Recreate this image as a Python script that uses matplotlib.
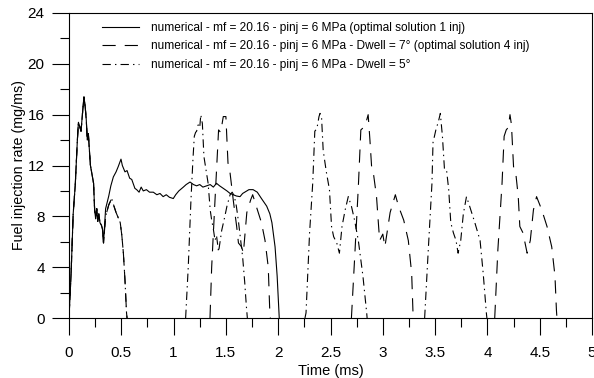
import numpy as np
import matplotlib
matplotlib.use("Agg")
import matplotlib.pyplot as plt
from matplotlib.ticker import MultipleLocator, FuncFormatter

plt.rcParams['font.family'] = ['Liberation Sans', 'DejaVu Sans']
plt.rcParams['lines.scale_dashes'] = False

nan = float('nan')

# ---- data (time in ms, rate in mg/ms) ----
# shared start of first injection
common_t = [0.0, 0.02, 0.04, 0.06, 0.08, 0.09, 0.105, 0.115, 0.13, 0.143, 0.155, 0.165,
            0.175, 0.185, 0.195, 0.205, 0.22, 0.235, 0.245, 0.255, 0.265, 0.275, 0.285,
            0.296, 0.31, 0.32, 0.33]
common_v = [0.0, 3.5, 8.2, 10.5, 14.0, 15.4, 15.0, 14.7, 16.2, 17.4, 16.6, 15.6,
            14.0, 14.5, 13.2, 12.0, 11.3, 10.6, 8.5, 7.8, 8.6, 7.6, 8.2,
            7.5, 7.3, 7.0, 5.9]

single_t = [0.35, 0.38, 0.40, 0.424, 0.45, 0.47, 0.497, 0.51, 0.535, 0.555, 0.58, 0.60,
            0.63, 0.647, 0.67, 0.69, 0.71, 0.74, 0.77, 0.806, 0.84, 0.87, 0.90, 0.93,
            0.96, 0.997, 1.02, 1.05, 1.093, 1.12, 1.157, 1.19, 1.22, 1.25, 1.28, 1.316,
            1.35, 1.38, 1.41, 1.44, 1.475, 1.51, 1.54, 1.57, 1.60, 1.635, 1.66, 1.68,
            1.72, 1.76, 1.80, 1.84, 1.89, 1.92, 1.94, 1.97, 1.99, 2.01]
single_v = [8.6, 9.6, 10.4, 11.1, 11.5, 11.9, 12.5, 12.0, 11.5, 11.6, 11.0, 10.9,
            10.2, 10.1, 9.9, 10.3, 10.0, 10.1, 9.9, 9.9, 9.7, 9.8, 9.55, 9.7,
            9.5, 9.4, 9.7, 10.0, 10.3, 10.5, 10.7, 10.5, 10.4, 10.5, 10.3, 10.4,
            10.5, 10.3, 10.6, 10.4, 10.2, 10.0, 9.8, 9.7, 9.6, 9.55, 9.8, 9.9,
            10.1, 10.1, 9.9, 9.4, 8.8, 8.2, 7.5, 5.6, 3.3, 0.0]

# end of first injection for multi-injection strategies
first_end_t = [0.35, 0.38, 0.408, 0.43, 0.45, 0.49, 0.505, 0.52, 0.535, 0.55, 0.555]
first_end_v = [8.0, 8.9, 9.4, 8.8, 8.3, 7.5, 6.5, 5.1, 3.0, 0.4, 0.0]

# Dwell = 7 deg (4 inj), later injections
d7_t = [nan,
        1.348, 1.364, 1.396, 1.43, 1.45, 1.475, 1.50, 1.51, 1.52, 1.54, 1.57, 1.587,
        1.603, 1.62, 1.65, 1.667, 1.70, 1.737, 1.756, 1.79, 1.84, 1.874, 1.905, 1.92, 1.925,
        nan,
        2.70, 2.73, 2.766, 2.79, 2.83, 2.86, 2.877, 2.893, 2.91, 2.94, 2.96, 2.97,
        3.0, 3.02, 3.07, 3.12, 3.15, 3.20, 3.244, 3.276, 3.29, 3.295,
        nan,
        4.07, 4.10, 4.14, 4.16, 4.18, 4.20, 4.216, 4.23, 4.25, 4.27, 4.295, 4.31,
        4.34, 4.36, 4.38, 4.41, 4.44, 4.47, 4.52, 4.57, 4.615, 4.646, 4.66, 4.665]
d7_v = [nan,
        0.0, 4.0, 9.3, 14.8, 14.6, 15.85, 15.85, 14.0, 12.2, 11.4, 9.3, 8.2,
        7.2, 5.9, 5.6, 5.1, 8.3, 9.3, 9.7, 8.8, 7.5, 6.1, 4.0, 0.4, 0.0,
        nan,
        0.0, 4.6, 10.3, 14.8, 15.1, 16.0, 14.0, 11.9, 11.4, 9.55, 7.2, 6.1,
        6.6, 5.6, 8.3, 9.7, 8.8, 7.7, 6.1, 3.5, 0.1, 0.0,
        nan,
        0.0, 5.35, 10.6, 14.3, 14.8, 15.0, 16.0, 15.2, 11.9, 11.5, 9.55, 7.2,
        6.7, 5.9, 5.1, 6.1, 8.5, 9.55, 8.5, 7.2, 5.6, 3.3, 0.6, 0.0]

# Dwell = 5 deg, later injections
d5_t = [nan,
        1.115, 1.14, 1.166, 1.185, 1.198, 1.21, 1.22, 1.235, 1.25, 1.26, 1.275, 1.29,
        1.31, 1.33, 1.35, 1.364, 1.38, 1.396, 1.41, 1.43, 1.46, 1.49, 1.51, 1.54,
        1.56, 1.58, 1.60, 1.62, 1.64, 1.66, 1.68, 1.695, 1.705,
        nan,
        2.256, 2.266, 2.30, 2.33, 2.35, 2.37, 2.39, 2.40, 2.415, 2.43, 2.46, 2.49,
        2.51, 2.53, 2.56, 2.585, 2.61, 2.64, 2.67, 2.70, 2.73, 2.766, 2.81, 2.846, 2.85,
        nan,
        3.40, 3.435, 3.47, 3.48, 3.51, 3.53, 3.55, 3.57, 3.59, 3.61, 3.63, 3.65,
        3.675, 3.70, 3.72, 3.745, 3.77, 3.80, 3.83, 3.88, 3.93, 3.96, 3.99, 3.995]
d5_v = [nan,
        0.0, 4.0, 9.3, 12.5, 14.3, 14.6, 14.7, 15.2, 15.0, 16.0, 15.3, 12.7,
        11.65, 10.6, 8.5, 7.7, 7.0, 6.1, 6.5, 5.2, 6.9, 8.0, 8.8, 9.7,
        9.9, 9.6, 8.8, 7.6, 6.2, 4.8, 2.8, 1.0, 0.0,
        nan,
        0.0, 0.4, 6.7, 10.6, 14.7, 14.9, 15.85, 16.1, 15.7, 13.2, 11.5, 10.1,
        7.2, 6.4, 5.9, 5.1, 7.2, 8.5, 9.55, 8.8, 7.7, 6.1, 3.3, 0.4, 0.0,
        nan,
        0.0, 5.4, 10.6, 13.8, 14.9, 15.4, 16.1, 14.3, 11.65, 11.6, 10.1, 7.5,
        6.7, 6.1, 5.1, 6.1, 8.2, 9.55, 8.8, 7.5, 6.1, 3.5, 0.4, 0.0]

labels = ["numerical - mf = 20.16 - pinj = 6 MPa (optimal solution 1 inj)",
          "numerical - mf = 20.16 - pinj = 6 MPa - Dwell = 7\u00b0 (optimal solution 4 inj)",
          "numerical - mf = 20.16 - pinj = 6 MPa - Dwell = 5\u00b0"]

# ---- plot ----
fig = plt.figure(figsize=(5.94, 3.78), dpi=100)
ax = fig.add_axes([69/594, 1-318/378, (592-69)/594, (318-13)/378])

lw = 0.8
t1 = common_t + single_t
v1 = common_v + single_v
t7 = common_t + first_end_t + d7_t
v7 = common_v + first_end_v + d7_v
t5 = common_t + first_end_t + d5_t
v5 = common_v + first_end_v + d5_v

ax.plot(t1, v1, color='black', lw=lw, label=labels[0])
ax.plot(t7, v7, color='black', lw=lw, dashes=(9.5, 6.5), label=labels[1])
ax.plot(t5, v5, color='black', lw=lw, dashes=(6, 3, 1, 3), label=labels[2])

ax.set_xlim(0, 5)
ax.set_ylim(0, 24)
ax.xaxis.set_major_locator(MultipleLocator(0.5))
ax.xaxis.set_minor_locator(MultipleLocator(0.25))
ax.yaxis.set_major_locator(MultipleLocator(4))
ax.yaxis.set_minor_locator(MultipleLocator(2))
ax.xaxis.set_major_formatter(FuncFormatter(lambda x, p: f"{x:g}"))

ax.tick_params(which='major', direction='out', length=12.5, width=0.8,
               labelsize=11, pad=5)
ax.tick_params(axis='x', which='major', pad=7.5)
ax.tick_params(which='minor', direction='out', length=6.5, width=0.8)
for s in ax.spines.values():
    s.set_linewidth(0.8)

ax.set_xlabel("Time (ms)", fontsize=10.5, labelpad=3)
ax.set_ylabel("Fuel injection rate (mg/ms)", fontsize=10.3, labelpad=1)

leg = ax.legend(loc='upper left', bbox_to_anchor=(0.05, 0.995), frameon=False,
                fontsize=8.6, handlelength=3.1, handletextpad=1.0,
                labelspacing=0.55, borderaxespad=0.2)

fig.savefig("out.png", dpi=100)
